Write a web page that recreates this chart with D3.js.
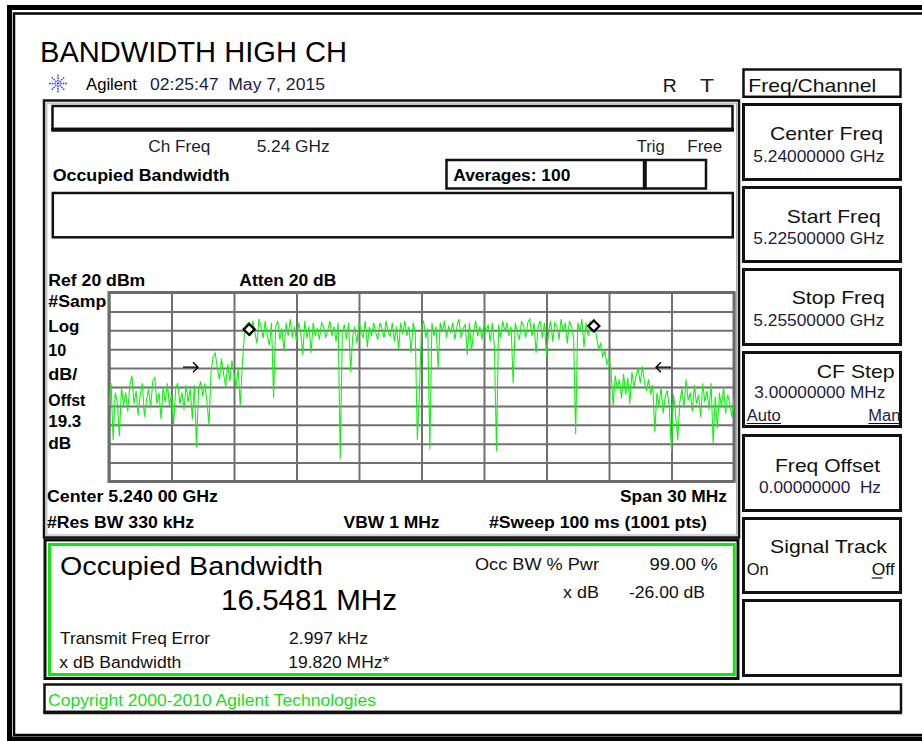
<!DOCTYPE html>
<html><head><meta charset="utf-8">
<script src="https://cdn.jsdelivr.net/npm/d3@7"></script>
<style>html,body{margin:0;padding:0;background:#fff;overflow:hidden}svg{display:block;font-family:"Liberation Sans",Arial,sans-serif}text{white-space:pre}</style>
</head><body>
<svg id="c" width="922" height="741"></svg>
<script>
// ---- data ----
const startFreqGHz = 5.225, stopFreqGHz = 5.255;
const gridFreqGHz = [5.225,5.228,5.231,5.234,5.237,5.240,5.243,5.246,5.249,5.252,5.255];
const gridDbm = [20,10,0,-10,-20,-30,-40,-50,-60,-70,-80];
const traceDbm = [
-40,-28,-58,-33,-38,-56,-30,-40,-33,-43,
-29,-24,-39,-32,-45,-34,-28,-46,-37,-31,
-41,-27,-25,-39,-33,-47,-30,-38,-28,-40,
-34,-50,-31,-28,-39,-33,-42,-29,-38,-31,
-47,-29,-62,-31,-27,-35,-28,-38,-50,-22,
-14,-12,-20,-26,-15,-23,-30,-18,-27,-16,
-23,-30,-20,-40,-18,-2,3,4,-3,5,
-1,-7,6,2,-4,5,-3,-8,4,-36,
2,5,-5,1,-11,4,-3,6,-4,2,
-6,4,-1,-13,5,-4,2,-12,4,-3,
1,-5,4,2,-4,0,5,-3,2,-6,
4,-68,-1,3,-5,4,-22,-3,2,-7,
4,-1,-4,5,-9,2,-3,4,-1,-5,
4,1,-4,5,-1,-3,4,-6,2,-10,
4,-2,5,-3,2,-12,4,-1,-58,-33,
2,5,-4,1,-63,4,-3,2,-20,4,
-1,5,-4,2,-1,4,-5,2,6,-4,
1,3,-13,4,-11,-1,5,-3,2,-5,
4,-1,3,-6,4,-9,-64,3,-4,5,
-1,4,-3,2,-28,4,-1,-5,5,2,
-4,4,6,-3,4,-12,2,5,-4,4,
-14,-1,5,-6,4,2,-5,6,-1,4,
-7,5,2,-4,-55,4,-1,6,-9,4,
-3,5,2,3,-3,-10,-7,-14,-11,-18,
-15,-22,-40,-24,-31,-26,-36,-23,-34,-25,
-39,-22,-30,-24,-20,-28,-19,-27,-32,-26,
-34,-29,-54,-33,-40,-30,-44,-35,-32,-42,
-64,-34,-45,-58,-38,-31,-41,-26,-37,-33,
-43,-29,-39,-34,-46,-28,-38,-32,-42,-28,
-60,-35,-52,-33,-41,-30,-44,-34,-39,-46,-36];
const obwMarkerGHz = [5.231726, 5.248274];
const obwMarkerDbm = [0.5, 2.3];
const xdbArrowTipGHz = [5.229272, 5.251256];
const xdbArrowTailGHz = [5.228552, 5.251976];
const xdbArrowDbm = -19.5;
const softKeys = [
 {label:"Center Freq", value:"5.24000000 GHz"},
 {label:"Start Freq", value:"5.22500000 GHz"},
 {label:"Stop Freq", value:"5.25500000 GHz"},
 {label:"CF Step", value:"3.00000000 MHz"},
 {label:"Freq Offset", value:"0.00000000  Hz"},
 {label:"Signal Track", value:""},
 {label:"", value:""}];

// ---- drawing ----
const svg = d3.select('#c');
const INK = '#111';
function T(x, y, s, o = {}) {
  const el = svg.append('text').attr('x', x).attr('y', y).text(s)
    .attr('font-size', o.size || 16).attr('font-weight', o.bold ? 'bold' : 'normal')
    .attr('fill', o.color || INK).attr('text-anchor', o.anchor || 'start');
  if (o.w) el.attr('textLength', o.w).attr('lengthAdjust', 'spacingAndGlyphs');
  return el;
}
function R(x0, y0, x1, y1, sw, col) {
  return svg.append('rect').attr('x', x0).attr('y', y0).attr('width', x1 - x0).attr('height', y1 - y0)
    .attr('fill', 'none').attr('stroke', col || INK).attr('stroke-width', sw);
}
function L(x0, y0, x1, y1, sw, col) {
  return svg.append('line').attr('x1', x0).attr('y1', y0).attr('x2', x1).attr('y2', y1)
    .attr('stroke', col || INK).attr('stroke-width', sw);
}

// outer frame
R(9.5, 7.5, 940, 739, 5, '#000');
R(14, 13.5, 935, 735, 2.5, '#000');

// title
T(40, 61.5, 'BANDWIDTH HIGH CH', {size: 29.5, w: 307, color: '#000'});

// Agilent logo
const lg = svg.append('g').attr('transform', 'translate(58,83.5)');
for (let k = 0; k < 8; k++) {
  const a = k * Math.PI / 4;
  [3, 5.5, 8].forEach(r => lg.append('circle').attr('cx', r * Math.cos(a)).attr('cy', r * Math.sin(a))
    .attr('r', 0.9).attr('fill', '#3d4cf0'));
}
lg.append('circle').attr('r', 1.2).attr('fill', '#3d4cf0');
T(86, 89.5, 'Agilent', {w: 51, color: '#000'});
T(150, 89.5, '02:25:47  May 7, 2015', {w: 175, color: '#1c1c48'});
T(662.7, 91.5, 'R', {size: 19, w: 14});
T(700, 91.5, 'T', {size: 19, w: 14, color: '#2a1c30'});

// main panel
R(44, 100.5, 739, 537.5, 2.5);
R(46.8, 103.2, 736.5, 535, 1, '#aaa');
// header bar
R(52.5, 106, 732.5, 129, 2.5);
L(51.2, 129.8, 734, 129.8, 4);
T(148.3, 151.5, 'Ch Freq', {w: 62, color: '#1c1c30'});
T(256.7, 151.5, '5.24 GHz', {w: 73, color: '#1c1c30'});
T(636.7, 151.5, 'Trig', {w: 28, color: '#1c1c30'});
T(687.3, 151.5, 'Free', {w: 35, color: '#1c1c30'});
T(52.7, 180.5, 'Occupied Bandwidth', {bold: true, w: 177, color: '#000'});
R(446.5, 160, 706, 188.5, 2.5);
L(644.8, 159, 644.8, 189.5, 4);
T(453.3, 180.5, 'Averages: 100', {bold: true, w: 117, color: '#000'});
R(52.8, 193, 732.8, 237.3, 2.5);

// plot
const X0 = 109, X1 = 734, Y0 = 292.5, Y1 = 481.5;
const x = d3.scaleLinear().domain([startFreqGHz, stopFreqGHz]).range([X0, X1]);
const y = d3.scaleLinear().domain([-80, 20]).range([Y1, Y0]);
const gx = svg.append('g').attr('transform', `translate(0,${Y1})`)
  .call(d3.axisBottom(x).tickValues(gridFreqGHz).tickSize(-(Y1 - Y0)).tickFormat(''));
const gy = svg.append('g').attr('transform', `translate(${X0},0)`)
  .call(d3.axisLeft(y).tickValues(gridDbm).tickSize(-(X1 - X0)).tickFormat(''));
[gx, gy].forEach(g => {
  g.select('.domain').remove();
  g.selectAll('.tick line').attr('stroke', '#707070').attr('stroke-width', 2);
});
R(X0, Y0, X1, Y1, 3, '#6c6c6c');

svg.append('clipPath').attr('id', 'pc').append('rect')
  .attr('x', X0).attr('y', Y0).attr('width', X1 - X0).attr('height', Y1 - Y0);
const stepGHz = (stopFreqGHz - startFreqGHz) / (traceDbm.length - 1);
svg.append('path').datum(traceDbm).attr('clip-path', 'url(#pc)')
  .attr('fill', 'none').attr('stroke', '#14f014').attr('stroke-width', 1.1)
  .attr('d', d3.line().x((d, i) => x(startFreqGHz + i * stepGHz)).y(d => y(d)));

// OBW markers
obwMarkerGHz.forEach((f, i) => {
  const cx = x(f), cy = y(obwMarkerDbm[i]);
  svg.append('path').attr('d', `M${cx},${cy - 5.5}L${cx + 5.5},${cy}L${cx},${cy + 5.5}L${cx - 5.5},${cy}Z`)
    .attr('fill', '#fff').attr('stroke', '#000').attr('stroke-width', 2.3);
});
// x dB arrows
xdbArrowTipGHz.forEach((f, i) => {
  const tx = x(f), tl = x(xdbArrowTailGHz[i]), ay = y(xdbArrowDbm);
  const dir = Math.sign(tx - tl);
  svg.append('path').attr('d', `M${tl},${ay}L${tx},${ay}M${tx - dir * 5},${ay - 5}L${tx},${ay}L${tx - dir * 5},${ay + 5}`)
    .attr('fill', 'none').attr('stroke', '#000').attr('stroke-width', 1.4);
});

// plot annotations
T(48.3, 286, 'Ref 20 dBm', {bold: true, w: 97, color: '#000'});
T(239.3, 286, 'Atten 20 dB', {bold: true, w: 97, color: '#000'});
[['#Samp', 306.5, 58], ['Log', 331.5, 31], ['10', 355.5, 18], ['dB/', 379.5, 29],
 ['Offst', 406, 37], ['19.3', 427, 33], ['dB', 448.5, 23]]
  .forEach(([s, yy, w]) => T(48.3, yy, s, {bold: true, w, color: '#000'}));
T(47, 502, 'Center 5.240 00 GHz', {bold: true, w: 171, color: '#000'});
T(620, 502, 'Span 30 MHz', {bold: true, w: 107, color: '#000'});
T(47, 528, '#Res BW 330 kHz', {bold: true, w: 147, color: '#000'});
T(343.6, 528, 'VBW 1 MHz', {bold: true, w: 96, color: '#000'});
T(489, 528, '#Sweep 100 ms (1001 pts)', {bold: true, w: 218, color: '#000'});

// result box
R(45, 540, 738, 678.5, 3);
R(49.5, 544.5, 734.3, 674.5, 3, '#0be80b');
T(60, 575, 'Occupied Bandwidth', {size: 26, w: 263, color: '#000'});
T(221, 610, '16.5481 MHz', {size: 30, w: 176, color: '#000'});
T(475, 570, 'Occ BW % Pwr', {w: 124});
T(649.4, 570, '99.00 %', {w: 68});
T(563, 598, 'x dB', {w: 36});
T(629, 598, '-26.00 dB', {w: 76});
T(60, 643.5, 'Transmit Freq Error', {w: 150});
T(289, 643.5, '2.997 kHz', {w: 79});
T(59.3, 667.5, 'x dB Bandwidth', {w: 122});
T(288.3, 667.5, '19.820 MHz*', {w: 101});

// copyright
R(44.5, 684.5, 901, 712, 2.5);
L(43.3, 712.5, 902, 712.5, 3.5);
T(48, 706, 'Copyright 2000-2010 Agilent Technologies', {w: 328, color: '#19dc19'});

// soft keys
R(743.5, 69.5, 900.5, 96.8, 2.5);
T(748.3, 91.5, 'Freq/Channel', {size: 19, w: 128});
const keyBoxes = [[103, 181], [186, 263], [268, 346], [351, 428], [434, 512], [517, 594], [599, 677]];
keyBoxes.forEach(([a, b]) => R(743.5, a + 1.5, 900.5, b - 1.5, 3));
const labelPos = [[770, 140, 113], [786.7, 222.5, 94], [791.7, 304, 93], [816.7, 378, 78], [775, 471.5, 105], [770, 553, 117]];
const valuePos = [[753.3, 161.5, 131], [753.3, 243.5, 131], [753.3, 326, 131], [754.3, 398, 131], [759, 492.5, 122]];
labelPos.forEach(([lx, ly, w], i) => T(lx, ly, softKeys[i].label, {size: 19, w}));
valuePos.forEach(([vx, vy, w], i) => T(vx, vy, softKeys[i].value, {w, color: '#1c1c40'}));
T(746.7, 420.5, 'Auto', {w: 34, color: '#1c1c40'}); L(746.7, 423.5, 781, 423.5, 1.2);
T(868.3, 420.5, 'Man', {w: 32, color: '#1c1c40'}); L(868.3, 423.5, 900.5, 423.5, 1.2);
T(746.7, 575, 'On', {w: 22});
T(871.7, 575, 'Off', {w: 23}); L(871.7, 578, 882.5, 578, 1.2);
</script>
</body></html>
